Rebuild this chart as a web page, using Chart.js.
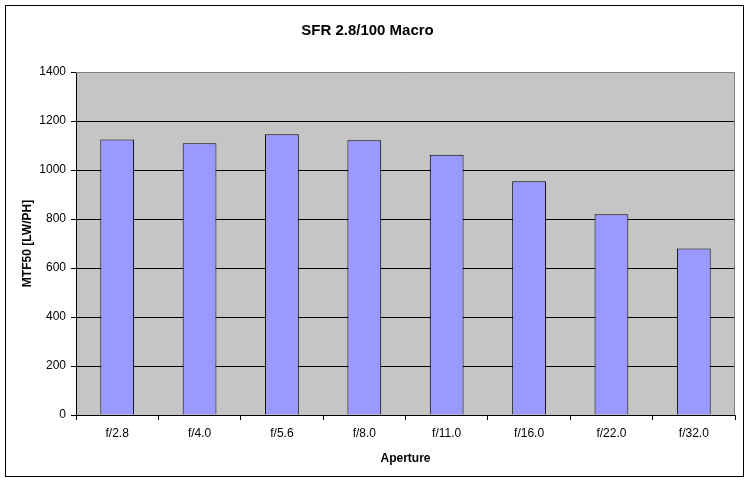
<!DOCTYPE html>
<html>
<head>
<meta charset="utf-8">
<script src="https://cdn.jsdelivr.net/npm/chart.js@4"></script>
<style>
  html, body { margin: 0; padding: 0; background: #fff; }
  #wrap { width: 750px; height: 482px; }
</style>
</head>
<body>
<div id="wrap"><canvas id="chart" width="750" height="482"></canvas></div>
<script>
const apertures = ["f/2.8", "f/4.0", "f/5.6", "f/8.0", "f/11.0", "f/16.0", "f/22.0", "f/32.0"]
const mtf50 = [1124, 1109, 1146, 1121, 1062, 954, 819, 680]
const yMax = 1400
const yStep = 200

const FONT = "'Liberation Sans', Arial, sans-serif"

// plot background, grey plot border and outer frame like the Excel chart
const excelFrame = {
  id: "excelFrame",
  beforeDraw(chart) {
    const { ctx, chartArea: a } = chart
    ctx.save()
    ctx.fillStyle = "#fff"
    ctx.fillRect(0, 0, chart.width, chart.height)
    ctx.fillStyle = "#c5c5c5"
    ctx.fillRect(a.left, a.top, a.right - a.left, a.bottom - a.top)
    ctx.restore()
  },
  afterDraw(chart) {
    const { ctx, chartArea: a } = chart
    ctx.save()
    ctx.strokeStyle = "#808080"
    ctx.lineWidth = 1
    ctx.beginPath()
    ctx.moveTo(a.left, a.top + 0.5)
    ctx.lineTo(a.right - 0.5, a.top + 0.5)
    ctx.lineTo(a.right - 0.5, a.bottom)
    ctx.stroke()
    ctx.strokeStyle = "#000"
    ctx.strokeRect(5.5, 5.5, 738, 471)
    ctx.restore()
  }
}

new Chart(document.getElementById("chart"), {
  type: "bar",
  data: {
    labels: apertures,
    datasets: [{
      data: mtf50,
      backgroundColor: "#9999ff",
      borderColor: "#000",
      borderWidth: 1,
      barPercentage: 0.41,
      categoryPercentage: 1.0
    }]
  },
  options: {
    responsive: false,
    animation: false,
    layout: { padding: { left: 0, right: 15, top: 0, bottom: 0 } },
    plugins: {
      legend: { display: false },
      tooltip: { enabled: false },
      title: {
        display: true,
        text: "SFR 2.8/100 Macro",
        color: "#000",
        font: { family: FONT, size: 15, weight: "bold", lineHeight: 1.2 },
        padding: { top: 21.5, bottom: 32.5 }
      }
    },
    scales: {
      x: {
        afterFit(scale) { scale.height = 67 },
        grid: {
          offset: true,
          drawOnChartArea: false,
          drawTicks: true,
          tickLength: 5,
          tickColor: "#000"
        },
        border: { color: "#000", width: 1 },
        ticks: { color: "#000", font: { family: FONT, size: 12 }, padding: 6 },
        title: {
          display: true,
          text: "Aperture",
          color: "#000",
          font: { family: FONT, size: 12, weight: "bold" },
          padding: { top: 8, bottom: 16 }
        }
      },
      y: {
        min: 0,
        max: yMax,
        afterFit(scale) { scale.width = 76 },
        grid: {
          color: ctx => ctx.tick && ctx.tick.value === yMax ? "rgba(0,0,0,0)" : "#000",
          tickColor: "#000",
          tickLength: 5,
          lineWidth: 1
        },
        border: { color: "#000", width: 1 },
        ticks: {
          stepSize: yStep,
          color: "#000",
          font: { family: FONT, size: 12 },
          padding: 5,
          callback: v => String(v)
        },
        title: {
          display: true,
          text: "MTF50 [LW/PH]",
          color: "#000",
          font: { family: FONT, size: 12, weight: "bold" },
          padding: { top: 20, bottom: 0 }
        }
      }
    }
  },
  plugins: [excelFrame]
})
</script>
</body>
</html>
